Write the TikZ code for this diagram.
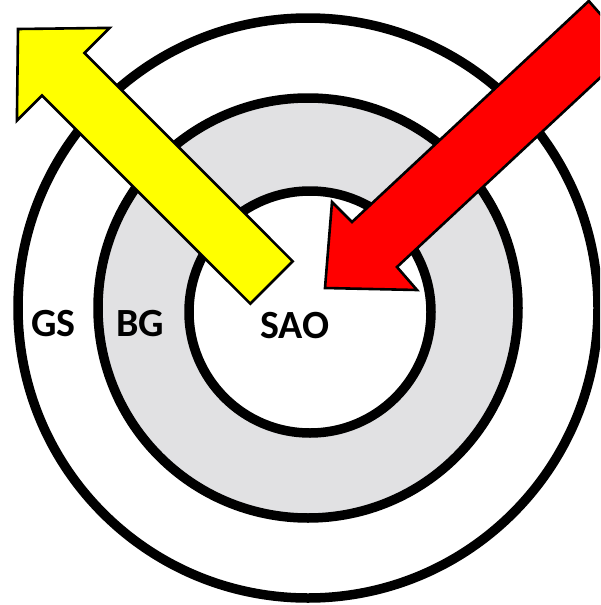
\documentclass[tikz,border=0pt]{standalone}
\usepackage{fontspec}
\setmainfont{Carlito}
\definecolor{ringgray}{HTML}{E1E1E3}
\definecolor{arrowyellow}{HTML}{FFFF00}
\definecolor{arrowred}{HTML}{FF0000}
\begin{document}
\begin{tikzpicture}[x=1pt,y=-1pt,
  ring/.style={draw=black,line width=9.5pt},
  arrowshape/.style={draw=black,line width=2.6pt,line join=miter},
  lbl/.style={font=\fontsize{40}{44}\selectfont\bfseries,inner sep=0pt,anchor=base,text=black}]
\useasboundingbox (0,0) rectangle (600,605);
\fill[white] (0,0) rectangle (600,605);
\begin{scope}
\clip (0,0) rectangle (600,605);
% rings
\draw[ring,fill=white] (308,308) circle (290);
\draw[ring,fill=ringgray] (308,308) circle (210);
\draw[ring,fill=white] (310,312) circle (121);
% yellow arrow
\draw[arrowshape,fill=arrowyellow]
  (292.7,261.3) -- (84.5,53.0) -- (109.6,27.9) -- (18,29) -- (16.9,120.6)
  -- (42.0,95.5) -- (250.3,303.7) -- cycle;
% red arrow
\draw[arrowshape,fill=arrowred]
  (588.8,1) -- (352,222) -- (332,202) -- (325,288) -- (417,290)
  -- (397,267) -- (631,49) -- cycle;
\end{scope}
\node[lbl] (gs) at (53.5,336) {GS};
\node[lbl] (bg) at (140,336) {BG};
\node[lbl] (sao) at (295,338) {SAO};
\end{tikzpicture}
\end{document}
